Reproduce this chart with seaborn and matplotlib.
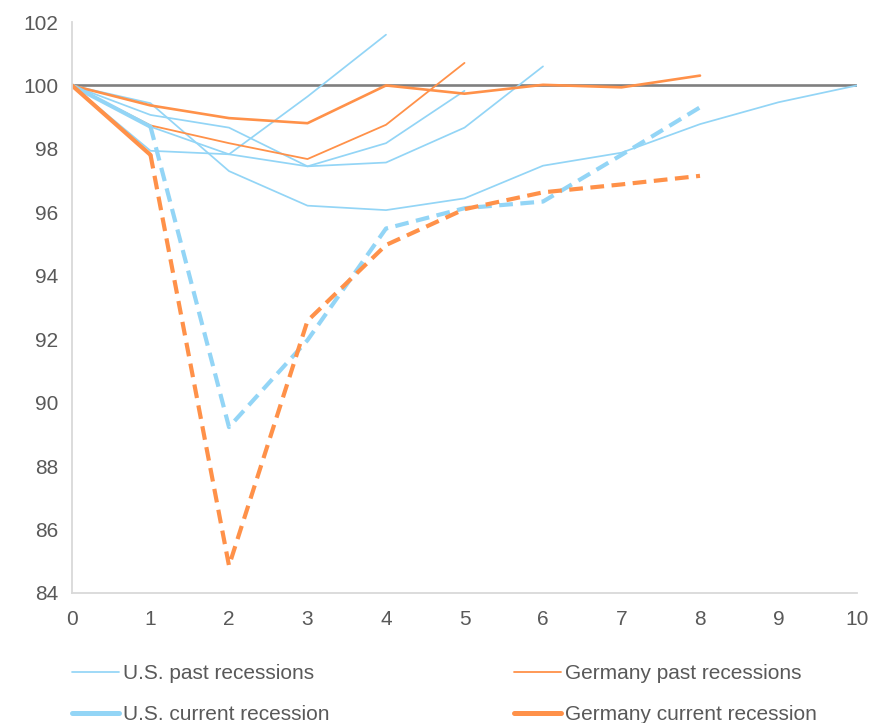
import matplotlib
matplotlib.use("Agg")
import matplotlib.pyplot as plt
from matplotlib.lines import Line2D
import seaborn as sns

sns.set_style("white")
plt.rcParams["font.family"] = ["Liberation Sans", "DejaVu Sans"]

# Quarters since the start of the recession
quarters = list(range(11))

# Index of output (start of recession = 100)
us_past = [
    [100.0, 97.94, 97.83, 99.65, 101.60],
    [100.0, 98.70, 97.83, 97.45, 98.18, 99.83],
    [100.0, 99.07, 98.67, 97.45, 97.57, 98.67, 100.60],
    [100.0, 99.44, 97.30, 96.21, 96.07, 96.44, 97.47, 97.88, 98.78, 99.47, 100.0],
]
germany_past = [
    [100.0, 99.37, 98.97, 98.81, 100.0, 99.74, 100.02, 99.94, 100.31],
    [100.0, 98.74, 98.18, 97.68, 98.76, 100.71],
]
us_current = [100.0, 98.70, 89.23, 91.97, 95.49, 96.13, 96.34, 97.81, 99.31]
germany_current = [100.0, 97.81, 84.86, 92.58, 94.97, 96.10, 96.63, 96.88, 97.15]
baseline = [100.0] * 11

x_ticks = list(range(0, 11))
y_ticks = list(range(84, 103, 2))

legend_labels = ["U.S. past recessions", "Germany past recessions",
                 "U.S. current recession", "Germany current recession"]

BLUE = "#93d5f6"
ORANGE = "#ff9149"
GREY = "#7f7f7f"
TEXT = "#595959"
SPINE = "#d9d9d9"
FS = 15

fig = plt.figure(figsize=(8.7, 7.23), dpi=100)
ax = fig.add_axes([72 / 870, 1 - 593 / 723, (857 - 72) / 870, (593 - 22) / 723])

sns.lineplot(x=quarters, y=baseline, ax=ax, color=GREY, lw=1.9)

for s in us_past:
    sns.lineplot(x=quarters[:len(s)], y=s, ax=ax, color=BLUE, lw=1.25)

for i, s in enumerate(germany_past):
    sns.lineplot(x=quarters[:len(s)], y=s, ax=ax, color=ORANGE,
                 lw=1.9 if i == 0 else 1.3)

dash = (0, (3.3, 1.8))
for s, c in [(us_current, BLUE), (germany_current, ORANGE)]:
    n = len(s)
    sns.lineplot(x=quarters[:2], y=s[:2], ax=ax, color=c, lw=3.0)
    sns.lineplot(x=quarters[1:n], y=s[1:], ax=ax, color=c, lw=3.0,
                 linestyle=dash)

ax.set_xlim(0, 10)
ax.set_ylim(84, 102)
ax.set_xticks(x_ticks)
ax.set_yticks(y_ticks)
ax.set_xlabel("")
ax.set_ylabel("")

for side in ["top", "right"]:
    ax.spines[side].set_visible(False)
for side in ["left", "bottom"]:
    ax.spines[side].set_color(SPINE)
    ax.spines[side].set_linewidth(1.3)

ax.tick_params(axis="both", which="major", direction="out", length=5,
               width=1.1, color=SPINE, labelcolor=TEXT, labelsize=FS)
ax.tick_params(axis="y", pad=5)
ax.tick_params(axis="x", pad=7)
ax.grid(False)

# Legend: two columns, one per country
us_handles = [Line2D([], [], color=BLUE, lw=1.25),
              Line2D([], [], color=BLUE, lw=3.6)]
de_handles = [Line2D([], [], color=ORANGE, lw=1.3),
              Line2D([], [], color=ORANGE, lw=3.6)]

common = dict(loc="upper left", frameon=False, fontsize=FS, borderpad=0,
              borderaxespad=0, handlelength=2.25, handletextpad=0.2,
              labelspacing=1.05, labelcolor=TEXT)
fig.legend(us_handles, [legend_labels[0], legend_labels[2]],
           bbox_to_anchor=(72 / 870, 1 - 664 / 723), **common)
fig.legend(de_handles, [legend_labels[1], legend_labels[3]],
           bbox_to_anchor=(514 / 870, 1 - 664 / 723), **common)

fig.savefig("out.png", dpi=100)
